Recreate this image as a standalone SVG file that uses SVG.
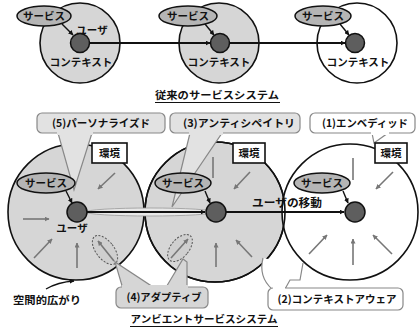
<svg xmlns="http://www.w3.org/2000/svg" width="419" height="330" viewBox="0 0 419 330">
<defs>
<style>
text{font-family:"Noto Sans CJK JP","Noto Sans",sans-serif;font-weight:bold;fill:#111;}
.ctx{fill:#d6d6d6;stroke:#111;stroke-width:1.6;}
.ctxw{fill:#fff;stroke:#111;stroke-width:1.6;}
.svc{fill:#b5b5b5;stroke:#111;stroke-width:1.5;}
.dot{fill:#5e5e5e;stroke:#111;stroke-width:1.5;}
.env{fill:#fff;stroke:#111;stroke-width:1.6;}
.ga{stroke:#777;stroke-width:1.6;fill:none;marker-end:url(#gh);}
.gl{stroke:#777;stroke-width:1.6;fill:none;}
.ba{stroke:#111;stroke-width:1.4;fill:none;marker-end:url(#bh);}
.main{stroke:#111;stroke-width:2.2;fill:none;marker-end:url(#bh);}
.cg{fill:#e2e2e2;stroke:#888;stroke-width:1.2;}
.cw{fill:#fff;stroke:#888;stroke-width:1.2;}
.dash{fill:#cfcfcf;stroke:#555;stroke-width:1;stroke-dasharray:2 1.5;}
.t10{font-size:10.5px;}
</style>
<marker id="bh" viewBox="0 0 10 10" refX="9" refY="5" markerWidth="5" markerHeight="5" orient="auto" markerUnits="userSpaceOnUse"><path d="M0,0 L10,5 L0,10 z" fill="#111"/></marker>
<marker id="gh" viewBox="0 0 10 10" refX="9" refY="5" markerWidth="5" markerHeight="5" orient="auto" markerUnits="userSpaceOnUse"><path d="M0,0 L10,5 L0,10 z" fill="#777"/></marker>
</defs>

<!-- Conventional service system -->
<g id="conv-ctx1">
<circle class="ctx" cx="80" cy="43" r="40"/>
<text x="81" y="66" class="t10" text-anchor="middle">コンテキスト</text>
<text x="92" y="34" class="t10" text-anchor="middle">ユーザ</text>
</g>
<g id="conv-ctx2">
<circle class="ctx" cx="219" cy="43" r="40"/>
<text x="219" y="66" class="t10" text-anchor="middle">コンテキスト</text>
</g>
<g id="conv-ctx3">
<circle class="ctxw" cx="357" cy="43" r="40"/>
<text x="358" y="66" class="t10" text-anchor="middle">コンテキスト</text>
</g>
<g id="conv-connectors">
<line class="ba" x1="62" y1="24" x2="73" y2="35"/>
<line class="ba" x1="205" y1="24" x2="214" y2="35"/>
<line class="ba" x1="340" y1="24" x2="349" y2="35"/>
<line class="main" x1="89" y1="43" x2="210" y2="43" style="stroke-width:1.8"/>
<line class="main" x1="229" y1="43" x2="345" y2="43" style="stroke-width:1.8"/>
</g>
<g id="conv-svc1">
<ellipse class="svc" cx="44" cy="16" rx="27" ry="10"/>
<text x="44" y="20" class="t10" text-anchor="middle">サービス</text>
</g>
<g id="conv-svc2">
<ellipse class="svc" cx="188" cy="16" rx="29" ry="10"/>
<text x="188" y="20" class="t10" text-anchor="middle">サービス</text>
</g>
<g id="conv-svc3">
<ellipse class="svc" cx="323" cy="16" rx="28" ry="10"/>
<text x="323" y="20" class="t10" text-anchor="middle">サービス</text>
</g>
<g id="conv-users">
<circle class="dot" cx="80" cy="43" r="9.5"/>
<circle class="dot" cx="220" cy="43" r="9.5"/>
<circle class="dot" cx="355" cy="43" r="9.5"/>
</g>
<g id="caption-conv">
<text x="217" y="99" font-size="10" text-anchor="middle" textLength="124" lengthAdjust="spacingAndGlyphs">従来のサービスシステム</text>
<line x1="155" y1="102.5" x2="280" y2="102.5" stroke="#111" stroke-width="1"/>
</g>

<!-- Ambient service system -->
<g id="amb-ctx1"><circle class="ctx" cx="76" cy="212" r="68"/></g>
<g id="amb-ctx2"><circle class="ctx" cx="215" cy="212" r="70"/></g>
<g id="amb-ctx3"><circle class="ctxw" cx="350" cy="212" r="68"/></g>
<circle cx="215" cy="212" r="70" fill="none" stroke="#111" stroke-width="1.6"/>

<g id="env-arrows">
<line class="ga" x1="115" y1="173" x2="98" y2="189"/>
<line class="ga" x1="23" y1="219" x2="49" y2="219"/>
<line class="ga" x1="34" y1="258" x2="52" y2="239"/>
<line class="ga" x1="77" y1="268" x2="77" y2="243"/>
<line class="ga" x1="250" y1="172" x2="234" y2="189"/>
<line class="gl" x1="213" y1="157" x2="213" y2="178"/>
<line class="ga" x1="216" y1="267" x2="216" y2="243"/>
<line class="ga" x1="252" y1="257" x2="236" y2="240"/>
<line class="ga" x1="393" y1="172" x2="376" y2="189"/>
<line class="gl" x1="353" y1="158" x2="353" y2="180"/>
<line class="ga" x1="309" y1="254" x2="327" y2="235"/>
<line class="ga" x1="353" y1="265" x2="353" y2="239"/>
<line class="ga" x1="392" y1="254" x2="373" y2="235"/>
</g>

<g id="adaptive-marks">
<ellipse class="dash" cx="105" cy="250" rx="9" ry="17" transform="rotate(-38 105 250)"/>
<line class="ga" x1="114" y1="261" x2="98" y2="241"/>
<ellipse class="dash" cx="180" cy="248" rx="9" ry="16" transform="rotate(40 180 248)"/>
<line class="ga" x1="171" y1="258" x2="188" y2="239"/>
</g>

<g id="callout-5">
<path class="cg" d="M58,133 L74,190 L92,133 z"/>
<rect class="cg" x="37" y="113" width="128" height="20" rx="5"/>
<rect x="57" y="131" width="36" height="4" fill="#e2e2e2"/>
<text x="101" y="127" class="t10" text-anchor="middle" textLength="98" lengthAdjust="spacingAndGlyphs">(5)パーソナライズド</text>
</g>
<g id="callout-3">
<path class="cg" d="M190,133 L172,207 L222,133 z"/>
<rect class="cg" x="170" y="113" width="130" height="20" rx="5"/>
<rect x="189" y="131" width="34" height="4" fill="#e2e2e2"/>
<text x="239" y="127" class="t10" text-anchor="middle" textLength="112" lengthAdjust="spacingAndGlyphs">(3)アンティシペイトリ</text>
</g>
<g id="callout-1">
<path class="cw" d="M372,133 L374,143 L388,133 z"/>
<rect class="cw" x="310" y="113" width="105" height="20" rx="5"/>
<rect x="371" y="131" width="18" height="4" fill="#fff"/>
<text x="365" y="127" class="t10" text-anchor="middle" textLength="86" lengthAdjust="spacingAndGlyphs">(1)エンベディッド</text>
</g>
<g id="callout-4">
<path class="cg" d="M123,289 L115,262 L156,289 z" style="fill:#d6d6d6"/>
<path class="cg" d="M165,289 L183,259 L187,262 L187,289 z" style="fill:#d6d6d6"/>
<rect class="cg" x="116" y="287" width="92" height="21" rx="5" style="fill:#d6d6d6"/>
<rect x="122" y="285" width="66" height="4" fill="#d6d6d6"/>
<text x="164" y="301" class="t10" text-anchor="middle" textLength="75" lengthAdjust="spacingAndGlyphs">(4)アダプティブ</text>
</g>
<g id="callout-2">
<path d="M272,290 C263,281 260,270 263,258 L283,262 L303,263 L300,280 L290,280 L285,290 z" fill="#fff"/>
<path d="M272,289 C263,281 260,270 263,258" fill="none" stroke="#888" stroke-width="1.2"/>
<path d="M303,263 L300,280 L290,280 L285,289" fill="none" stroke="#888" stroke-width="1.2"/>
<rect class="cw" x="268" y="288" width="135" height="22" rx="5"/>
<rect x="273" y="286" width="12" height="4" fill="#fff"/>
<text x="337" y="303" class="t10" text-anchor="middle" textLength="119" lengthAdjust="spacingAndGlyphs">(2)コンテキストアウェア</text>
</g>

<g id="connectors">
<ellipse cx="150" cy="212" rx="64" ry="4" fill="#e8e8e8" stroke="#999" stroke-width="0.8"/>
<line class="main" x1="87" y1="212" x2="205" y2="212"/>
<line class="main" x1="226" y1="212" x2="344" y2="212"/>
<line class="ba" x1="66" y1="191" x2="72" y2="203"/>
<line class="ba" x1="205" y1="191" x2="210" y2="203"/>
<line class="ba" x1="343" y1="191" x2="348" y2="203"/>
<path class="ba" d="M46,289 Q58,282 74,281"/>
</g>

<g id="env1"><rect class="env" x="92" y="143" width="35" height="20"/><text x="109.5" y="157" font-size="10.5" text-anchor="middle">環境</text></g>
<g id="env2"><rect class="env" x="233" y="143" width="32" height="20"/><text x="249" y="157" font-size="10.5" text-anchor="middle">環境</text></g>
<g id="env3"><rect class="env" x="375" y="143" width="32" height="20"/><text x="391" y="157" font-size="10.5" text-anchor="middle">環境</text></g>

<g id="amb-svc1"><ellipse class="svc" cx="46" cy="183" rx="29" ry="10"/><text x="46" y="187" class="t10" text-anchor="middle">サービス</text></g>
<g id="amb-svc2"><ellipse class="svc" cx="183" cy="183" rx="28" ry="10"/><text x="183" y="187" class="t10" text-anchor="middle">サービス</text></g>
<g id="amb-svc3"><ellipse class="svc" cx="322" cy="183" rx="28" ry="10"/><text x="322" y="187" class="t10" text-anchor="middle">サービス</text></g>

<g id="amb-user1"><circle class="dot" cx="77" cy="212" r="10"/><text x="72" y="232" class="t10" text-anchor="middle">ユーザ</text></g>
<g id="amb-user2"><circle class="dot" cx="216" cy="212" r="10"/></g>
<g id="amb-user3"><circle class="dot" cx="355" cy="212" r="10"/></g>

<text x="287" y="207" font-size="11" text-anchor="middle" textLength="70" lengthAdjust="spacingAndGlyphs">ユーザの移動</text>
<text x="47" y="304" font-size="10.5" text-anchor="middle" textLength="68" lengthAdjust="spacingAndGlyphs">空間的広がり</text>

<g id="caption-amb">
<text x="204" y="323" font-size="10" text-anchor="middle" textLength="147" lengthAdjust="spacingAndGlyphs">アンビエントサービスシステム</text>
<line x1="130" y1="326.5" x2="278" y2="326.5" stroke="#111" stroke-width="1"/>
</g>
</svg>
